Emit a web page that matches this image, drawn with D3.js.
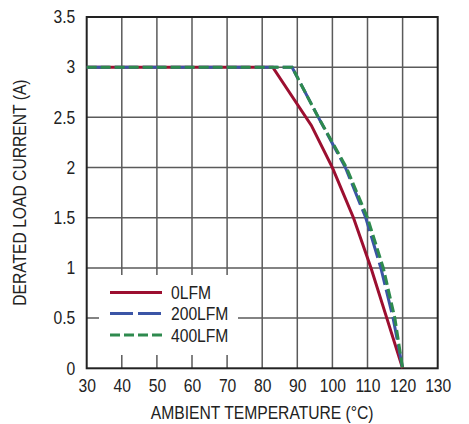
<!DOCTYPE html>
<html><head><meta charset="utf-8">
<script src="https://cdn.jsdelivr.net/npm/d3@7"></script>
<style>body{margin:0;background:#fff}svg{display:block}</style>
</head><body>
<script>
const xTicks = [30,40,50,60,70,80,90,100,110,120,130];
const yTicks = [0,0.5,1,1.5,2,2.5,3,3.5];
const seriesNames = ["0LFM","200LFM","400LFM"];
const lfm0 = [[30,3],[83,3],[94,2.42],[100,2.0],[106,1.5],[111,1.0],[115.5,0.5],[120,0]];
const lfm200 = [[30,3],[88.5,3],[96,2.5],[103.7,2.0],[109.5,1.5],[113.8,1.0],[117.3,0.5],[120,0]];
const lfm400 = [[30,3],[88.5,3],[96,2.5],[104,2.0],[110,1.5],[114.5,1.0],[117.8,0.5],[120,0]];
const xTitle = "AMBIENT TEMPERATURE (°C)";
const yTitle = "DERATED LOAD CURRENT (A)";

const W = 469, H = 424;
const m = {l:86.7, r:469-437.7, t:17, b:424-368.3};
const SX = 0.87;
const svg = d3.select("body").append("svg").attr("width",W).attr("height",H);
const x = d3.scaleLinear().domain([30,130]).range([m.l, W-m.r]);
const y = d3.scaleLinear().domain([0,3.5]).range([H-m.b, m.t]);
const font = "'Liberation Sans',Arial,sans-serif";

const g = svg.append("g");
// grid
g.selectAll(".vg").data(xTicks.slice(1,-1)).join("line")
  .attr("x1",d=>x(d)).attr("x2",d=>x(d)).attr("y1",y(0)).attr("y2",y(3.5))
  .attr("stroke","#5a5a5a").attr("stroke-width",1.5);
g.selectAll(".hg").data(yTicks.slice(1,-1)).join("line")
  .attr("y1",d=>y(d)).attr("y2",d=>y(d)).attr("x1",x(30)).attr("x2",x(130))
  .attr("stroke","#5a5a5a").attr("stroke-width",1.5);

// legend background
g.append("rect").attr("x",99).attr("y",275).attr("width",139).attr("height",80).attr("fill","#fff");

// border
g.append("rect").attr("x",x(30)).attr("y",y(3.5)).attr("width",x(130)-x(30)).attr("height",y(0)-y(3.5))
  .attr("fill","none").attr("stroke","#222").attr("stroke-width",2);

// axes labels via d3 axis
const xAxis = d3.axisBottom(x).tickValues(xTicks).tickSize(0).tickPadding(11);
const xa = svg.append("g").attr("transform",`translate(0,${y(0)})`).call(xAxis);
xa.select(".domain").remove();
xa.selectAll("text").attr("font-family",font).attr("font-size",18).attr("fill","#222")
  .attr("transform",`scale(${SX},1)`);

const yAxis = d3.axisLeft(y).tickValues(yTicks).tickSize(0).tickPadding(11).tickFormat(d3.format("~g"));
const ya = svg.append("g").attr("transform",`translate(${x(30)},0)`).call(yAxis);
ya.select(".domain").remove();
ya.selectAll("text").attr("font-family",font).attr("font-size",18).attr("fill","#222")
  .attr("x",-11.5/SX).attr("transform",`scale(${SX},1)`);

function label(px, py, txt, anchor, rot){
  const gg = svg.append("g").attr("transform",`translate(${px},${py})${rot?` rotate(${rot})`:""}`);
  gg.append("text").attr("transform",`scale(${SX},1)`).attr("text-anchor",anchor)
    .attr("font-family",font).attr("font-size",18).attr("fill","#222").text(txt);
}
label((x(30)+x(130))/2, 419, xTitle, "middle");
label(26, (y(0)+y(3.5))/2, yTitle, "middle", -90);

// lines
const line = d3.line().x(d=>x(d[0])).y(d=>y(d[1]));
const styles = [
  {data:lfm0, color:"#9c0f30", dash:null},
  {data:lfm200, color:"#3b55a6", dash:"23,5"},
  {data:lfm400, color:"#2e8a4e", dash:"10,4"}
];
styles.forEach(s=>{
  svg.append("path").datum(s.data).attr("d",line).attr("fill","none")
    .attr("stroke",s.color).attr("stroke-width",3).attr("stroke-dasharray",s.dash);
});

// legend
const ly = [292.5, 313.5, 335];
styles.forEach((s,i)=>{
  svg.append("line").attr("x1",110).attr("x2",162).attr("y1",ly[i]).attr("y2",ly[i])
    .attr("stroke",s.color).attr("stroke-width",3).attr("stroke-dasharray",s.dash);
  label(171, ly[i]+6.5, seriesNames[i], "start");
});
</script>
</body></html>
